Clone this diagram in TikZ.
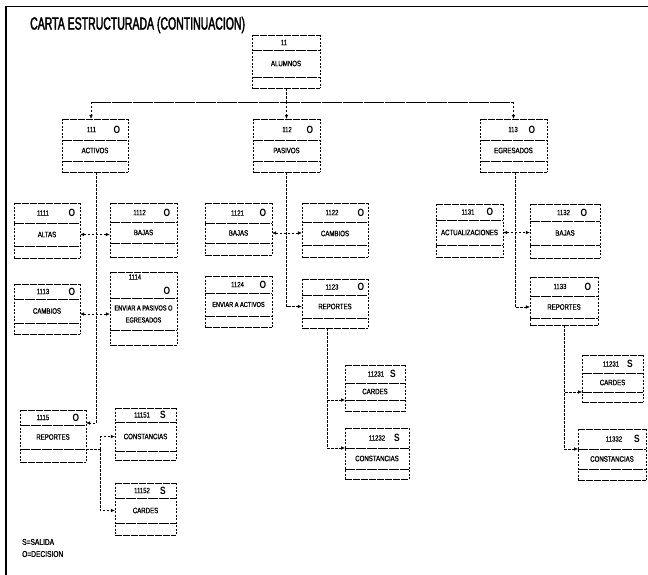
\documentclass[tikz,border=0pt]{standalone}
\usepackage{fontspec}
\setmainfont{Liberation Sans}
\newfontfamily\boxfont[FakeStretch=0.78,FakeBold=1.3]{Liberation Sans}
\newfontfamily\numfont[FakeStretch=0.8,FakeBold=0.4]{Liberation Sans}
\newfontfamily\markfont[FakeStretch=0.8]{Liberation Sans}
\newfontfamily\titlefont[FakeStretch=0.6,FakeBold=2]{Liberation Sans}
\usetikzlibrary{arrows.meta,fit}

\tikzset{
  hline/.style={line width=0.6pt, dash pattern=on 7pt off 1pt},
  vline/.style={line width=0.4pt, dash pattern=on 2pt off 1.5pt},
  rowrule/.style={line width=0.7pt, dash pattern=on 10pt off 1pt},
  boxarea/.style={inner sep=0pt, draw=none},
  conn/.style={line width=0.45pt, dash pattern=on 2.5pt off 1.5pt},
  tip/.tip={Latex[length=4pt,width=3.6pt]},
  arr/.style={conn, -tip},
  darr/.style={conn, tip-tip},
  bus/.style={line width=0.7pt, dash pattern=on 20pt off 1pt},
  frameline/.style={line width=1.8pt},
  lbl/.style={font=\boxfont\fontsize{7.8}{8}\selectfont, inner sep=0pt},
  num/.style={font=\numfont\fontsize{7.5}{8}\selectfont, inner sep=0pt},
  letter/.style={font=\markfont\bfseries\fontsize{10.5}{10}\selectfont, inner sep=0pt},
  legend/.style={font=\boxfont\fontsize{8.5}{9}\selectfont, inner sep=0pt, anchor=west},
}

% A three-part box: name, left x, top y, right x, bottom y, first rule y, second rule y
\newcommand\cbox[7]{%
  \node[boxarea, fit={(#2,#3) (#4,#5)}] (#1) {};
  \draw[hline] (#2,#3) -- (#4,#3);
  \draw[hline] (#2,#5) -- (#4,#5);
  \draw[vline] (#2,#3) -- (#2,#5);
  \draw[vline] (#4,#3) -- (#4,#5);
  \draw[rowrule] (#2,#6) coordinate (#1-a) -- (#4,#6);
  \draw[rowrule] (#2,#7) coordinate (#1-b) -- (#4,#7);
  \coordinate (#1-l) at ({(#2+#4)/2},{(#6+#7)/2});
  \coordinate (#1-t) at (0,{(#3+#6)/2});
}
% Number and kind letter in the top row: name, number, x of number, letter, x of letter
\newcommand\cnum[5]{%
  \node[num] (#1-n) at (#3,0 |- #1-t) {#2};
  \node[letter] (#1-k) at (#5,0 |- #1-t) {#4};
}
% Caption in the middle row
\newcommand\ctext[2]{\node[lbl] (#1-c) at (#1-l) {#2};}

\begin{document}
\begin{tikzpicture}[x=1pt, y=-1pt]
\useasboundingbox (0,0) rectangle (648,575);

% page frame
\draw[frameline] (6,575) -- (6,6.5) -- (648,6.5);

% title
\node[font=\titlefont\fontsize{17.5}{18}\selectfont, inner sep=0pt, anchor=west] (title) at (30,25) {CARTA ESTRUCTURADA (CONTINUACION)};

% level 1
\cbox{b11}{252}{35}{320}{88}{50}{77}
\node[num] (b11-n) at (284,0 |- b11-t) {11};
\ctext{b11}{ALUMNOS}

% level 2
\cbox{b111}{62}{119}{128}{172}{140}{161}
\cnum{b111}{111}{91.5}{O}{117}
\ctext{b111}{ACTIVOS}
\cbox{b112}{253}{119}{320}{172}{140}{161}
\cnum{b112}{112}{287}{O}{310}
\ctext{b112}{PASIVOS}
\cbox{b113}{480}{119}{547}{172}{140}{161}
\cnum{b113}{113}{513}{O}{532}
\ctext{b113}{EGRESADOS}

% ACTIVOS branch
\cbox{b1111}{14}{203}{80}{258}{223}{246}
\cnum{b1111}{1111}{43}{O}{72}
\ctext{b1111}{ALTAS}
\cbox{b1112}{110}{203}{177}{257}{222}{243}
\cnum{b1112}{1112}{139.5}{O}{167}
\ctext{b1112}{BAJAS}
\cbox{b1113}{14}{284}{80}{334}{299}{323}
\cnum{b1113}{1113}{43}{O}{72}
\ctext{b1113}{CAMBIOS}
\cbox{b1114}{110}{272}{177}{345}{298}{330}
\node[num] (b1114-n) at (135,277) {1114};
\node[letter] (b1114-k) at (167,291) {O};
\node[lbl, align=center, font=\boxfont\fontsize{7.2}{12}\selectfont] (b1114-c) at (b1114-l) {ENVIAR A PASIVOS O\\EGRESADOS};
\cbox{b1115}{20}{410}{86}{462}{425}{449}
\cnum{b1115}{1115}{43}{O}{76}
\ctext{b1115}{REPORTES}
\cbox{b11151}{115}{408}{176}{460}{422}{451}
\cnum{b11151}{11151}{142}{S}{163}
\ctext{b11151}{CONSTANCIAS}
\cbox{b11152}{115}{483}{176}{535}{498}{523}
\cnum{b11152}{11152}{142}{S}{163}
\ctext{b11152}{CARDES}

% PASIVOS branch
\cbox{b1121}{205}{203}{272}{255}{223}{243}
\cnum{b1121}{1121}{237.5}{O}{263}
\ctext{b1121}{BAJAS}
\cbox{b1122}{302}{203}{368}{257}{222}{245}
\cnum{b1122}{1122}{332}{O}{361}
\ctext{b1122}{CAMBIOS}
\cbox{b1124}{205}{276}{272}{327}{293}{316}
\cnum{b1124}{1124}{237.5}{O}{263}
\node[lbl, font=\boxfont\fontsize{7.2}{8}\selectfont] (b1124-c) at (b1124-l) {ENVIAR A ACTIVOS};
\cbox{b1123}{302}{279}{368}{328}{295}{318}
\cnum{b1123}{1123}{332}{O}{361}
\ctext{b1123}{REPORTES}
\cbox{b11231}{345}{365}{405}{411}{383}{400}
\cnum{b11231}{11231}{376}{S}{393}
\ctext{b11231}{CARDES}
\cbox{b11232}{345}{428}{409}{479}{448}{469}
\cnum{b11232}{11232}{377}{S}{397}
\ctext{b11232}{CONSTANCIAS}

% EGRESADOS branch
\cbox{b1131}{436}{204}{503}{257}{220}{245}
\cnum{b1131}{1131}{468}{O}{490}
\ctext{b1131}{ACTUALIZACIONES}
\cbox{b1132}{530}{204}{600}{258}{221}{245}
\cnum{b1132}{1132}{563.5}{O}{584}
\ctext{b1132}{BAJAS}
\cbox{b1133}{530}{277}{598}{325}{296}{318}
\cnum{b1133}{1133}{560}{O}{588}
\ctext{b1133}{REPORTES}
\cbox{b11331}{582}{355}{643}{402}{373}{392}
\cnum{b11331}{11231}{611}{S}{630}
\ctext{b11331}{CARDES}
\cbox{b11332}{578}{429}{646}{480}{449}{469}
\cnum{b11332}{11332}{614}{S}{637}
\ctext{b11332}{CONSTANCIAS}

% legend
\node[legend] (leg1) at (22,542) {S=SALIDA};
\node[legend] (leg2) at (22,554) {O=DECISION};

% connectors: level 1 to level 2
\coordinate (bus1) at (91,102);
\draw[conn] (b11.south) -- (b11.south |- bus1);
\draw[bus] (bus1) -- (b113.north |- bus1);
\draw[arr] (bus1) -- (bus1 |- b111.north);
\draw[arr] (b112.north |- bus1) -- (b112.north);
\draw[arr] (b113.north |- bus1) -- (b113.north);

% ACTIVOS branch connectors
\draw[arr] ([xshift=1.5pt]b111.south) |- ([yshift=2pt]b1115.east |- b1115-a);
\draw[darr] (b1111.east |- b1111-l) -- (b1112.west |- b1111-l);
\draw[darr] (b1113.east |- b1114-l) -- (b1114.west |- b1114-l);
\coordinate (j1115) at (100,449);
\draw[conn] (b1115.east |- b1115-b) -- (j1115);
\draw[arr] (j1115) |- (b11151.west |- b11151-l);
\draw[arr] (j1115) |- (b11152.west |- b11152-l);

% PASIVOS branch connectors
\draw[arr] (b112.south) |- (b1123.west |- b1123-l);
\draw[darr] (b1121.east |- b1121-l) -- (b1122.west |- b1121-l);
\draw[arr] ([xshift=-8pt]b1123.south) |- (b11231-b);
\draw[arr] ([xshift=-8pt]b1123.south) |- (b11232-a);

% EGRESADOS branch connectors
\draw[arr] ([xshift=1.5pt]b113.south) |- (b1133.west |- b1133-l);
\draw[darr] (b1131.east |- b1131-l) -- (b1132.west |- b1131-l);
\draw[arr] (b1133.south) |- (b11331-b);
\draw[arr] (b1133.south) |- (b11332-a);
\end{tikzpicture}
\end{document}
